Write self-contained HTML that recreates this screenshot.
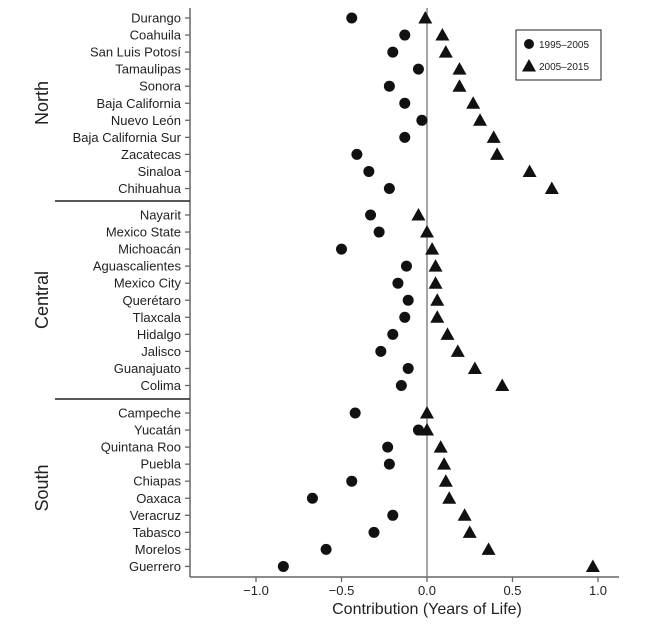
<!DOCTYPE html>
<html><head><meta charset="utf-8"><style>
body{margin:0;background:#fff;}
svg{display:block;font-family:"Liberation Sans",sans-serif;}
</style></head><body>
<svg id="chart" width="650" height="627">
<g id="g"></g>
</svg>
<script>
const northStates=["Durango","Coahuila","San Luis Potosí","Tamaulipas","Sonora","Baja California","Nuevo León","Baja California Sur","Zacatecas","Sinaloa","Chihuahua"];
const north1995=[-0.44,-0.13,-0.20,-0.05,-0.22,-0.13,-0.03,-0.13,-0.41,-0.34,-0.22];
const north2005=[-0.01,0.09,0.11,0.19,0.19,0.27,0.31,0.39,0.41,0.60,0.73];
const centralStates=["Nayarit","Mexico State","Michoacán","Aguascalientes","Mexico City","Querétaro","Tlaxcala","Hidalgo","Jalisco","Guanajuato","Colima"];
const central1995=[-0.33,-0.28,-0.50,-0.12,-0.17,-0.11,-0.13,-0.20,-0.27,-0.11,-0.15];
const central2005=[-0.05,0.00,0.03,0.05,0.05,0.06,0.06,0.12,0.18,0.28,0.44];
const southStates=["Campeche","Yucatán","Quintana Roo","Puebla","Chiapas","Oaxaca","Veracruz","Tabasco","Morelos","Guerrero"];
const south1995=[-0.42,-0.05,-0.23,-0.22,-0.44,-0.67,-0.20,-0.31,-0.59,-0.84];
const south2005=[0.00,0.00,0.08,0.10,0.11,0.13,0.22,0.25,0.36,0.97];
const xTicks=[-1.0,-0.5,0.0,0.5,1.0];
const xTickLabels=["−1.0","−0.5","0.0","0.5","1.0"];

const NS="http://www.w3.org/2000/svg";
const g=document.getElementById('g');
function el(t,a,txt){const e=document.createElementNS(NS,t);for(const k in a)e.setAttribute(k,a[k]);if(txt!==undefined)e.textContent=txt;g.appendChild(e);return e;}
const x=v=>427+171*v;
const L=190,R=619,T=8,B=577;
let e;
e=el('line',{x1:L,y1:T,x2:L,y2:B,stroke:'#666','stroke-width':1.5});


e=el('line',{x1:L,y1:B,x2:R,y2:B,stroke:'#666','stroke-width':1.5});


e=el('line',{x1:x(0),y1:T,x2:x(0),y2:B,stroke:'#777','stroke-width':1.3});


xTicks.forEach((t,i)=>{
  e=el('line',{x1:x(t),y1:B,x2:x(t),y2:B+5,stroke:'#666','stroke-width':1.3});
  
  
  e=el('text',{x:x(t),y:B+18,'text-anchor':'middle','font-size':13,fill:'#222'},xTickLabels[i]);
  
  
});
e=el('text',{x:427,y:614,'text-anchor':'middle','font-size':16,fill:'#222'},'Contribution (Years of Life)');



function tri(cx,cy){const s=7;return `${cx},${cy-s} ${cx-s},${cy+5.5} ${cx+s},${cy+5.5}`;}
function group(name,states,a,b,y0,labelY){
  states.forEach((s,i)=>{
    const y=y0+17.05*i;
    e=el('line',{x1:L-5,y1:y,x2:L,y2:y,stroke:'#666','stroke-width':1.3});
    
    
    e=el('text',{x:181,y:y+4.5,'text-anchor':'end','font-size':13,fill:'#222'},s);
    
    
    e=el('circle',{cx:x(a[i]),cy:y,r:5.5,fill:'#111'});
    
    
    e=el('polygon',{points:tri(x(b[i]),y),fill:'#111'});
    
    
  });
  e=el('text',{x:0,y:0,'text-anchor':'middle','font-size':18,fill:'#222',transform:`translate(48,${labelY}) rotate(-90)`},name);
  
  
}
group('North',northStates,north1995,north2005,18,103);
group('Central',centralStates,central1995,central2005,215,300);
group('South',southStates,south1995,south2005,413,488);
[201,399].forEach(y=>{
  e=el('line',{x1:55,y1:y,x2:L,y2:y,stroke:'#222','stroke-width':1.5});
  
  
});
e=el('rect',{x:516,y:30,width:85,height:50,fill:'#fff',stroke:'#222','stroke-width':1});


e=el('circle',{cx:529,cy:44,r:5,fill:'#111'});


e=el('text',{x:539,y:48,'font-size':10,fill:'#222'},'1995–2005');


e=el('polygon',{points:tri(529,66),fill:'#111'});


e=el('text',{x:539,y:70,'font-size':10,fill:'#222'},'2005–2015');


</script>
</body></html>
